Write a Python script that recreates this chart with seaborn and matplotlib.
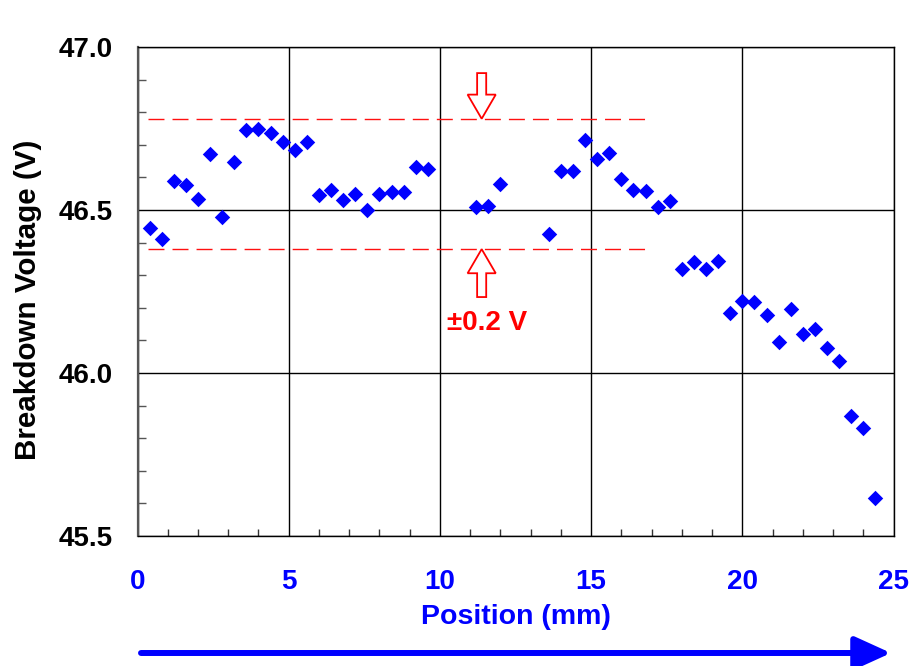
import matplotlib
matplotlib.use('Agg')
import matplotlib.pyplot as plt
from matplotlib.patches import FancyArrow
from matplotlib.ticker import MultipleLocator
import seaborn as sns
import numpy as np

# position along the device (mm) and measured breakdown voltage (V)
position = [0.4, 0.8, 1.2, 1.6, 2.0, 2.4, 2.8, 3.2, 3.6, 4.0, 4.4, 4.8,
            5.2, 5.6, 6.0, 6.4, 6.8, 7.2, 7.6, 8.0, 8.4, 8.8, 9.2, 9.6,
            11.2, 11.6, 12.0,
            13.6, 14.0, 14.4, 14.8, 15.2, 15.6, 16.0, 16.4, 16.8, 17.2, 17.6,
            18.0, 18.4, 18.8, 19.2, 19.6, 20.0, 20.4, 20.8, 21.2, 21.6,
            22.0, 22.4, 22.8, 23.2, 23.6, 24.0, 24.4]
voltage = [46.445, 46.41, 46.589, 46.577, 46.534, 46.672, 46.48, 46.647,
           46.745, 46.75, 46.736, 46.708, 46.684, 46.708, 46.546, 46.561,
           46.531, 46.549, 46.5, 46.549, 46.555, 46.555, 46.632, 46.626,
           46.51, 46.512, 46.58,
           46.426, 46.62, 46.62, 46.715, 46.657, 46.675, 46.595, 46.561,
           46.558, 46.51, 46.528,
           46.319, 46.34, 46.319, 46.344, 46.184, 46.221, 46.218, 46.178,
           46.095, 46.196, 46.12, 46.135, 46.077, 46.037, 45.868, 45.831,
           45.617]

# tolerance band
band_upper = 46.78
band_lower = 46.38
band_x = [0.35, 17.0]
band_label = '\u00b10.2 V'

sns.set_style('white')
plt.rcParams['font.family'] = ['Liberation Sans', 'DejaVu Sans']
plt.rcParams['font.weight'] = 'bold'

fig = plt.figure(figsize=(9.09, 6.66), dpi=100)
ax = fig.add_axes([0.1513, 0.1952, 0.8317, 0.7342])

sns.scatterplot(x=position, y=voltage, marker='D', color='#0000ff', s=62,
                linewidth=0, ax=ax, zorder=3)

# dashed +/-0.2 V lines
for yv in (band_upper, band_lower):
    ax.plot(band_x, [yv, yv], color='#ff1010', lw=1.0, dashes=(11.5, 5.8), zorder=2)

# hollow arrows pointing at the band
arrow_kw = dict(width=0.3, head_width=0.93, head_length=0.074,
                length_includes_head=True, fill=False, edgecolor='#ff0000',
                lw=1.3, zorder=4)
ax.add_patch(FancyArrow(11.38, 46.92, 0, band_upper - 46.92, **arrow_kw))
ax.add_patch(FancyArrow(11.38, 46.233, 0, band_lower - 46.233, **arrow_kw))
ax.text(11.56, 46.153, band_label, color='#ff0000', fontsize=20,
        fontweight='bold', ha='center', va='center')

ax.set_xlim(0, 25)
ax.set_ylim(45.5, 47.0)
ax.xaxis.set_major_locator(MultipleLocator(5))
ax.xaxis.set_minor_locator(MultipleLocator(1))
ax.yaxis.set_major_locator(MultipleLocator(0.5))
ax.yaxis.set_minor_locator(MultipleLocator(0.1))
ax.yaxis.set_major_formatter(matplotlib.ticker.FormatStrFormatter('%.1f'))

ax.grid(True, which='major', color='black', lw=1.0)
ax.set_axisbelow(True)
for sp in ax.spines.values():
    sp.set_color('black')
    sp.set_linewidth(1.0)
ax.spines['left'].set_color('#555555')
ax.spines['left'].set_linewidth(1.6)

ax.tick_params(axis='both', which='both', direction='in')
ax.tick_params(axis='y', which='minor', length=6, width=1, color='#555555', left=True)
ax.tick_params(axis='x', which='minor', length=5, width=1, color='#333333', bottom=True)
ax.tick_params(axis='y', which='major', length=0, labelsize=20, pad=18,
               labelcolor='black')
ax.tick_params(axis='x', which='major', length=0, labelsize=20, pad=24,
               labelcolor='#0000ff')
for lab in ax.get_xticklabels() + ax.get_yticklabels():
    lab.set_fontweight('bold')

ax.set_xlabel('Position (mm)', fontsize=20.5, fontweight='bold', color='#0000ff',
              labelpad=6)
ax.set_ylabel('Breakdown Voltage (V)', fontsize=21.3, fontweight='bold',
              color='black')
ax.yaxis.set_label_coords(-0.127, 0.483)

# direction arrow below the x axis
ax.annotate('', xy=(891 / 909, 13 / 666), xytext=(141 / 909, 13 / 666),
            xycoords='figure fraction', textcoords='figure fraction',
            arrowprops=dict(arrowstyle='-|>,head_length=2.2,head_width=1.0',
                            lw=4.3, color='#0000ff', shrinkA=0, shrinkB=0))

fig.savefig('out.png', dpi=100)
